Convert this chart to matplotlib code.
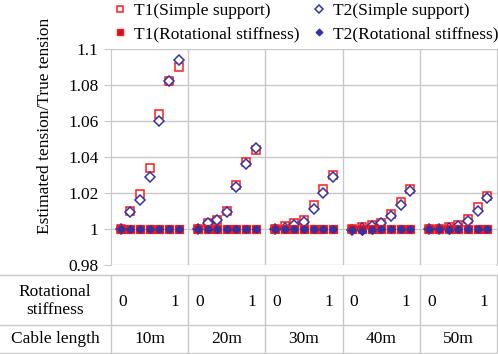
import matplotlib
matplotlib.use("Agg")
import matplotlib.pyplot as plt
from matplotlib.lines import Line2D
import matplotlib.transforms as mtransforms

plt.rcParams['font.family'] = ['Liberation Serif', 'DejaVu Serif']

cable_lengths = ['10m', '20m', '30m', '40m', '50m']
stiffness_ends = ['0', '1']
n_points = 7

t1_simple = [
    [1.000, 1.010, 1.019, 1.034, 1.064, 1.082, 1.090],
    [1.000, 1.003, 1.005, 1.010, 1.024, 1.037, 1.044],
    [1.000, 1.0015, 1.003, 1.005, 1.013, 1.022, 1.030],
    [1.000, 1.001, 1.002, 1.003, 1.008, 1.015, 1.022],
    [1.000, 1.000, 1.001, 1.002, 1.0055, 1.012, 1.018],
]
t2_simple = [
    [1.000, 1.009, 1.016, 1.029, 1.060, 1.082, 1.094],
    [1.000, 1.003, 1.005, 1.009, 1.023, 1.036, 1.045],
    [0.9995, 1.0005, 1.002, 1.0035, 1.011, 1.020, 1.029],
    [0.999, 1.0006, 1.0015, 1.003, 1.007, 1.013, 1.021],
    [1.000, 1.000, 1.0006, 1.0017, 1.0045, 1.010, 1.017],
]
t1_rot = [
    [1.000, 1.000, 1.000, 1.000, 1.000, 1.000, 1.000],
    [1.000, 1.000, 1.000, 1.000, 1.000, 1.000, 1.000],
    [1.000, 1.000, 1.000, 1.000, 1.000, 1.000, 1.000],
    [1.000, 1.000, 1.000, 1.000, 1.000, 1.000, 1.000],
    [1.000, 1.000, 1.000, 1.000, 1.000, 1.000, 1.000],
]
t2_rot = [
    [1.000, 1.000, 1.000, 1.000, 1.000, 1.000, 1.000],
    [1.000, 1.000, 1.000, 1.000, 1.000, 1.000, 1.000],
    [0.9995, 0.9995, 1.000, 1.000, 1.000, 1.000, 1.000],
    [0.999, 0.9985, 0.9992, 0.9995, 0.9995, 1.000, 1.000],
    [1.000, 1.000, 0.999, 1.000, 1.000, 1.000, 1.000],
]
y_ticks = [0.98, 1.0, 1.02, 1.04, 1.06, 1.08, 1.1]
y_tick_labels = ['0.98', '1', '1.02', '1.04', '1.06', '1.08', '1.1']

FS = 12.5
W, H = 498, 354
fig = plt.figure(figsize=(W / 100, H / 100), dpi=100)
left, right, top, bottom = 111, 497, 49, 264.5
ax = fig.add_axes([left / W, 1 - bottom / H, (right - left) / W, (bottom - top) / H])

slot = n_points + 1
def xs(g):
    return [g * slot + k + 1 for k in range(n_points)]

red = '#FF1A1A'
dred = '#C8102E'
blue = '#3333A0'
ms = 5.6
for g in range(len(cable_lengths)):
    ax.plot(xs(g), t1_simple[g], ls='none', marker='s', ms=ms, mfc='white', mec=red, mew=1.1, zorder=3)
    ax.plot(xs(g), t2_simple[g], ls='none', marker='D', ms=ms * 0.85, mfc='white', mec=blue, mew=1.1, zorder=4)
    ax.plot(xs(g), t1_rot[g], ls='none', marker='s', ms=ms, mfc=dred, mec=red, mew=0.9, zorder=5)
    ax.plot(xs(g), t2_rot[g], ls='none', marker='D', ms=ms * 0.72, mfc=blue, mec=blue, mew=0.8, zorder=6)

ngroups = len(cable_lengths)
ax.set_xlim(0, ngroups * slot)
ax.set_ylim(0.98, 1.1)
ax.set_yticks(y_ticks)
ax.set_yticklabels(y_tick_labels, fontsize=FS)
ax.set_xticks([])
gridc = '#C8C8C8'
ax.grid(axis='y', color=gridc, lw=1.0)
for g in range(1, ngroups):
    ax.axvline(g * slot, color=gridc, lw=1.0)
for s in ['top', 'bottom']:
    ax.spines[s].set_visible(False)
for s in ['left', 'right']:
    ax.spines[s].set_color(gridc)
ax.tick_params(axis='y', length=5, color=gridc, pad=4)

fig.text(45 / W, 1 - 126 / H, 'Estimated tension/True tension', rotation=90,
         ha='center', va='center', fontsize=FS)

# Table below the plot
trans = mtransforms.blended_transform_factory(ax.transData, fig.transFigure)
def fy(p):
    return 1 - p / H
t_top, t_mid, t_bot = 275, 325, 353
lc = dict(color=gridc, lw=1.0, clip_on=False)
fig.add_artist(Line2D([0, 1], [fy(t_top)] * 2, transform=fig.transFigure, **lc))
fig.add_artist(Line2D([0, 1], [fy(t_mid)] * 2, transform=fig.transFigure, **lc))
fig.add_artist(Line2D([0, 1], [fy(t_bot)] * 2, transform=fig.transFigure, **lc))
for g in range(ngroups + 1):
    fig.add_artist(Line2D([g * slot] * 2, [fy(t_top), fy(t_bot)], transform=trans, **lc))

fig.text(55 / W, fy(301), 'Rotational\nstiffness', ha='center', va='center', fontsize=FS,
         linespacing=1.1)
fig.text(55 / W, fy(339), 'Cable length', ha='center', va='center', fontsize=FS)
for g, name in enumerate(cable_lengths):
    fig.text(g * slot + slot / 2, fy(339), name, transform=trans, ha='center', va='center', fontsize=FS)
    fig.text(g * slot + 1.2, fy(302), stiffness_ends[0], transform=trans, ha='center', va='center', fontsize=FS)
    fig.text(g * slot + 6.6, fy(302), stiffness_ends[1], transform=trans, ha='center', va='center', fontsize=FS)

handles = [
    Line2D([], [], ls='none', marker='s', ms=5, mfc='white', mec=red, mew=1.1),
    Line2D([], [], ls='none', marker='s', ms=5, mfc=dred, mec=red, mew=1.0),
    Line2D([], [], ls='none', marker='D', ms=4, mfc='white', mec=blue, mew=1.1),
    Line2D([], [], ls='none', marker='D', ms=3.5, mfc=blue, mec=blue, mew=0.8),
]
labels = ['T1(Simple support)', 'T1(Rotational stiffness)', 'T2(Simple support)', 'T2(Rotational stiffness)']
fig.legend(handles, labels, ncol=2, loc='upper left', bbox_to_anchor=(115 / W, 1 - 3 / H),
           frameon=False, fontsize=FS, handlelength=0.6, handletextpad=0.5,
           columnspacing=0.8, labelspacing=0.4, borderaxespad=0.0, borderpad=0.0)

fig.savefig('out.png', dpi=100)
